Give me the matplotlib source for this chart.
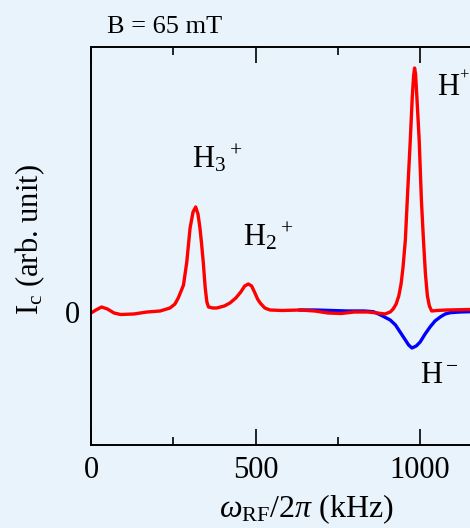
import numpy as np
import matplotlib
matplotlib.use('Agg')
import matplotlib.pyplot as plt
from matplotlib.ticker import MultipleLocator

plt.rcParams['font.family'] = ['Liberation Serif', 'DejaVu Serif']
plt.rcParams['mathtext.fontset'] = 'custom'
plt.rcParams['mathtext.rm'] = 'Liberation Serif'
plt.rcParams['mathtext.it'] = 'Liberation Serif:italic'

# Red trace (H+, H2+, H3+), frequency in kHz, signal in arb. units
red_freq = [0, 15, 32, 50, 70, 90, 130, 170, 210, 240, 255, 265, 275, 281,
            291, 301, 310, 318, 325, 331, 336, 341, 347, 352, 357, 370, 382,
            405, 422, 440, 455, 467, 478, 488, 498, 506, 514, 528, 544, 580,
            635, 680, 720, 760, 800, 840, 870, 893, 909, 918, 927, 935, 942,
            948, 955, 962, 970, 976, 980, 983, 986, 990, 997, 1004, 1010,
            1016, 1022, 1028, 1035, 1050, 1080, 1150]
red_sig = [-1, 2, 5, 3, -1, -2.5, -2, 0, 1, 4, 8, 14, 22, 27,
           50, 84, 100, 105, 98, 84, 68, 50, 24, 10, 5, 4, 4,
           6, 9, 14, 20, 26, 28, 26, 19, 13, 9, 4, 2, 1.5,
           2, 1, -1, -1.5, 0, 0, -1, -2, 0, 3, 8, 16, 28,
           45, 72, 120, 172, 215, 236, 244, 238, 215, 172, 110, 72,
           38, 16, 6, 1, 1.5, 2, 2.5]

# Blue trace (H-)
blue_freq = [635, 680, 730, 780, 830, 858, 880, 909, 925, 939, 955, 965,
             975, 988, 1000, 1015, 1030, 1045, 1061, 1076, 1091, 1120, 1150]
blue_sig = [2, 2, 1.5, 1, 1, 0.3, -3, -8, -13, -20, -28, -33,
            -36, -34, -30, -22, -15, -9, -5, -2, -0.7, 0, 0.3]

bg = '#e9f3fb'
fig = plt.figure(figsize=(4.7, 5.28), dpi=100, facecolor=bg)
ax = fig.add_axes([91 / 470, 1 - 445 / 528, 395 / 470, 398 / 528])
ax.set_facecolor(bg)

ax.plot(blue_freq, blue_sig, color='#0000ff', lw=2.4)
ax.plot(red_freq, red_sig, color='#ff0000', lw=2.4)

ax.set_xlim(0, 1200)
ax.set_ylim(-133, 265)

ax.xaxis.set_major_locator(MultipleLocator(500))
ax.xaxis.set_minor_locator(MultipleLocator(250))
ax.tick_params(axis='x', which='major', direction='in', length=11.5,
               width=1.2, top=True, labelsize=22, pad=8)
ax.tick_params(axis='x', which='minor', direction='in', length=5.8,
               width=1.2, top=True)
ax.set_yticks([0])
ax.set_yticklabels(['0'])
ax.tick_params(axis='y', length=0, labelsize=22, pad=8)
for s in ax.spines.values():
    s.set_linewidth(1.4)

ax.text(306, 145, r'H$_3$$^+$', fontsize=22)
ax.text(462, 67, r'H$_2$$^+$', fontsize=22)
# H+ sits at the right edge: draw the "+" separately so it stays inside
ax.text(1050, 217, 'H', fontsize=22)
ax.annotate('+', xy=(1050, 217), xytext=(16.5, 11), textcoords='offset points',
            fontsize=12)
ax.text(1000, -71, r'H$^-$', fontsize=22)

fig.text(107 / 470, 1 - 33 / 528, 'B = 65 mT', fontsize=19)
fig.text(306 / 470, 1 - 517 / 528, r'$\omega_{\mathrm{RF}}$/2$\pi$ (kHz)',
         fontsize=23, ha='center')
fig.text(30 / 470, 1 - 240 / 528, r'I$_\mathrm{c}$ (arb. unit)',
         fontsize=22, rotation=90, ha='center', va='center')

fig.savefig('out.png', dpi=100, facecolor=bg)
